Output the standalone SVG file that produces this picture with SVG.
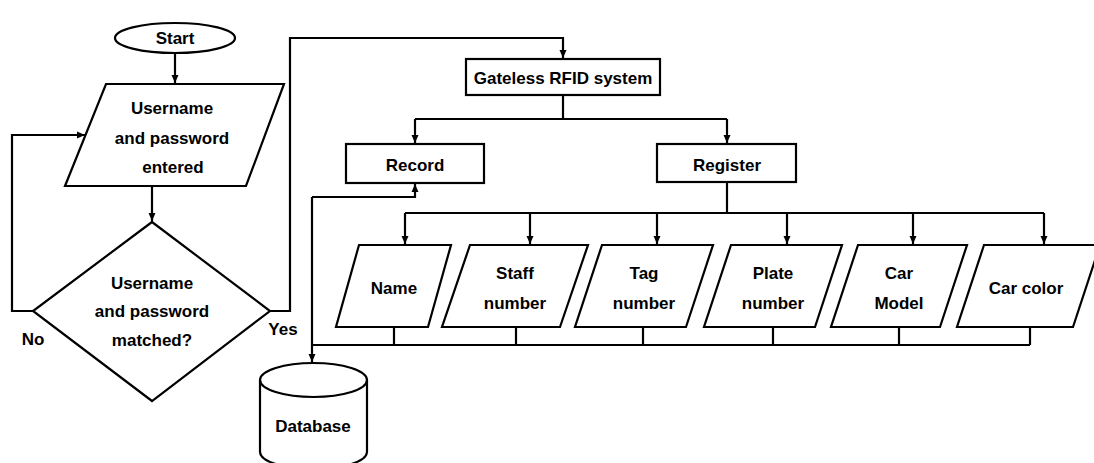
<svg xmlns="http://www.w3.org/2000/svg" width="1094" height="463" viewBox="0 0 1094 463">
<style>
.s{fill:#fff;stroke:#000;stroke-width:2.2}
.c{fill:none;stroke:#000;stroke-width:2.2}
.a{marker-end:url(#ah)}
.t{font-family:"Liberation Sans",Arial,sans-serif;font-weight:bold;font-size:17px;fill:#000;text-anchor:middle;dominant-baseline:central}
</style>
<defs>
<marker id="ah" markerUnits="userSpaceOnUse" markerWidth="9" markerHeight="8" refX="8" refY="4" orient="auto">
<path d="M0,0.5 L8,4 L0,7.5 z" fill="#000"/>
</marker>
</defs>
<rect width="1094" height="463" fill="#fff"/>
<g id="connectors">
<path class="c a" d="M175,53 V83"/>
<path class="c a" d="M152,186 V221"/>
<path class="c a" d="M33,311 H12 V135 H85"/>
<path class="c a" d="M270,311 H290 V38 H563 V58"/>
<path class="c" d="M563,95 V119 M415,119 H727"/>
<path class="c a" d="M415,119 V143"/>
<path class="c a" d="M727,119 V143"/>
<path class="c" d="M727,182 V213 M405,213 H1044"/>
<path class="c a" d="M405,213 V244"/>
<path class="c a" d="M530,213 V244"/>
<path class="c a" d="M657,213 V244"/>
<path class="c a" d="M787,213 V244"/>
<path class="c a" d="M913,213 V244"/>
<path class="c a" d="M1044,213 V244"/>
<path class="c" d="M394,327 V345 M516,327 V345 M643,327 V345 M773,327 V345 M899,327 V345 M1030,327 V345 M312,345 H1030"/>
<path class="c a" d="M312,197 V362"/>
<path class="c a" d="M312,197 H415 V184"/>
</g>
<g id="start">
<ellipse class="s" cx="175" cy="38" rx="60" ry="15"/>
<text class="t" x="175" y="38">Start</text>
</g>
<g id="input">
<polygon class="s" points="106,84 284,84 246,186 65,186"/>
<text class="t" x="172" y="108">Username</text>
<text class="t" x="172" y="138">and password</text>
<text class="t" x="173" y="167">entered</text>
</g>
<g id="decision">
<polygon class="s" points="152,222 270,311 152,401 33,311"/>
<text class="t" x="152" y="283">Username</text>
<text class="t" x="152" y="311">and password</text>
<text class="t" x="152" y="340">matched?</text>
</g>
<g id="label-no"><text class="t" x="33" y="339">No</text></g>
<g id="label-yes"><text class="t" x="283" y="329">Yes</text></g>
<g id="gateless">
<rect class="s" x="466" y="59" width="194" height="36"/>
<text class="t" x="563" y="78">Gateless RFID system</text>
</g>
<g id="record">
<rect class="s" x="346" y="144" width="138" height="39"/>
<text class="t" x="415" y="165">Record</text>
</g>
<g id="register">
<rect class="s" x="657" y="144" width="139" height="38"/>
<text class="t" x="727" y="165">Register</text>
</g>
<g id="name">
<polygon class="s" points="359,245 451,245 428,327 336,327"/>
<text class="t" x="394" y="288">Name</text>
</g>
<g id="staff">
<polygon class="s" points="470,245 588,245 560,327 442,327"/>
<text class="t" x="515" y="273">Staff</text>
<text class="t" x="515" y="303">number</text>
</g>
<g id="tag">
<polygon class="s" points="602,245 713,245 686,327 575,327"/>
<text class="t" x="644" y="273">Tag</text>
<text class="t" x="644" y="303">number</text>
</g>
<g id="plate">
<polygon class="s" points="731,245 842,245 815,327 704,327"/>
<text class="t" x="773" y="273">Plate</text>
<text class="t" x="773" y="303">number</text>
</g>
<g id="carmodel">
<polygon class="s" points="858,245 967,245 940,327 831,327"/>
<text class="t" x="899" y="273">Car</text>
<text class="t" x="899" y="303">Model</text>
</g>
<g id="carcolor">
<polygon class="s" points="984,245 1100,245 1073,327 957,327"/>
<text class="t" x="1026" y="288">Car color</text>
</g>
<g id="database">
<path class="s" d="M260,380 V452 A53.5,17 0 0 0 367,452 V380 A53.5,17 0 0 0 260,380 Z"/>
<path class="c" d="M260,380 A53.5,17 0 0 0 367,380"/>
<text class="t" x="313" y="426">Database</text>
</g>
</svg>
